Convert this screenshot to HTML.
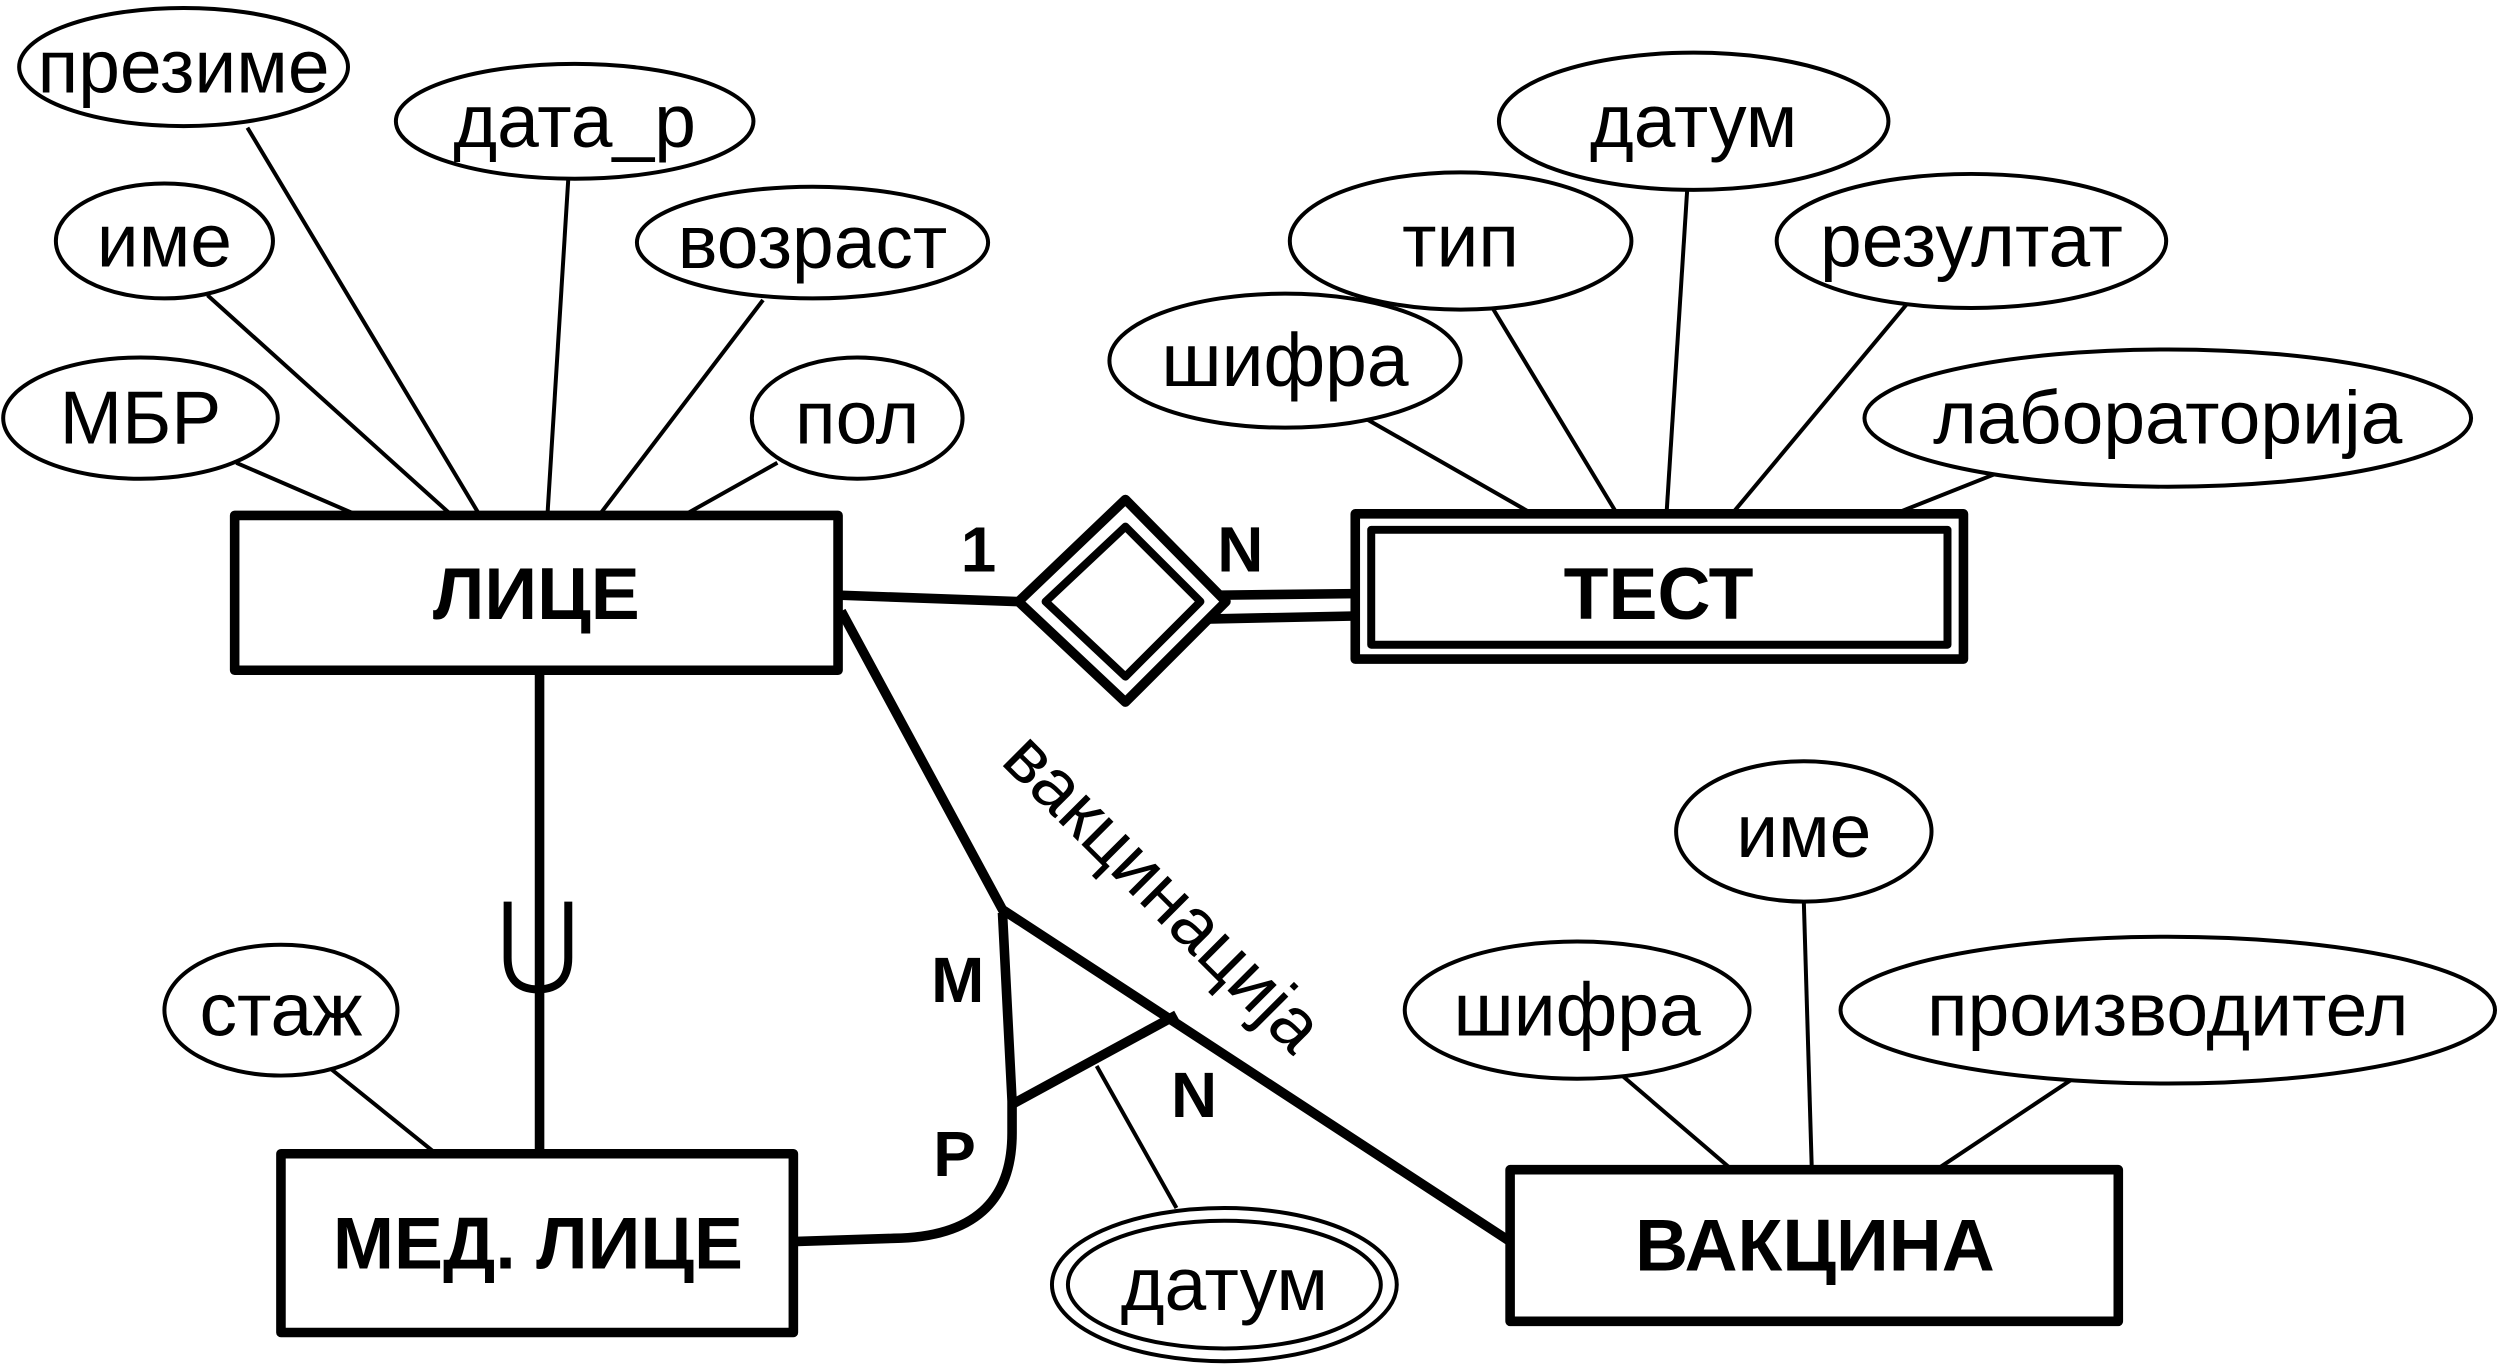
<!DOCTYPE html>
<html><head><meta charset="utf-8"><style>
html,body{margin:0;padding:0;background:#fff;}
svg{display:block;}
text{font-family:"Liberation Sans","DejaVu Sans",sans-serif;fill:#000;}
</style></head><body>
<svg width="2503" height="1366" viewBox="0 0 1568 856" preserveAspectRatio="none" xmlns="http://www.w3.org/2000/svg">
<g fill="#fff" stroke="#000" stroke-width="2.5">
<line x1="155" y1="80" x2="300" y2="322"/>
<line x1="356" y1="112" x2="343" y2="322"/>
<line x1="130" y1="185" x2="282" y2="322"/>
<line x1="478" y1="188" x2="376" y2="322"/>
<line x1="148" y1="290" x2="222" y2="322"/>
<line x1="487" y1="290" x2="430" y2="322"/>
<line x1="848" y1="258" x2="960" y2="322"/>
<line x1="935" y1="193" x2="1013" y2="322"/>
<line x1="1057" y1="118" x2="1044" y2="322"/>
<line x1="1195" y1="190" x2="1085" y2="322"/>
<line x1="1260" y1="293" x2="1187" y2="322"/>
<line x1="1130" y1="565" x2="1135" y2="733"/>
<line x1="1015" y1="673" x2="1085" y2="733"/>
<line x1="1300" y1="675" x2="1213" y2="733"/>
<line x1="205" y1="668" x2="272" y2="722"/>
<line x1="687" y1="668" x2="737" y2="757"/>
<ellipse cx="115" cy="42" rx="103" ry="37"/>
<ellipse cx="360" cy="76" rx="112" ry="36"/>
<ellipse cx="103" cy="151" rx="68" ry="36"/>
<ellipse cx="509" cy="152" rx="110" ry="35"/>
<ellipse cx="88" cy="262" rx="86" ry="38"/>
<ellipse cx="537" cy="262" rx="66" ry="38"/>
<ellipse cx="805" cy="226" rx="110" ry="42"/>
<ellipse cx="915" cy="151" rx="107" ry="43"/>
<ellipse cx="1061" cy="76" rx="122" ry="43"/>
<ellipse cx="1235" cy="151" rx="122" ry="42"/>
<ellipse cx="1358" cy="262" rx="190" ry="43"/>
<ellipse cx="1130" cy="521" rx="80" ry="44"/>
<ellipse cx="988" cy="633" rx="108" ry="43"/>
<ellipse cx="1358" cy="633" rx="205" ry="46"/>
<ellipse cx="176" cy="633" rx="73" ry="41"/>
<ellipse cx="767" cy="805" rx="108" ry="48"/>
<ellipse cx="767" cy="805" rx="98" ry="40"/>
</g>
<g fill="none" stroke="#000" stroke-width="6" stroke-linejoin="round">
<line x1="527" y1="373" x2="638" y2="377"/>
<line x1="760" y1="373" x2="849" y2="372"/>
<line x1="752" y1="388" x2="849" y2="386"/>
<line x1="338" y1="420" x2="338" y2="722"/>
<path d="M318 565 L318 600 Q318 620 337 620 Q356 620 356 600 L356 565" stroke-width="5"/>
<polyline points="527,383 628,570 946,778"/>
<path d="M628 572 L634 690 L634 710 Q634 775 560 776 L497 778"/>
<line x1="634" y1="692" x2="737" y2="636"/>
<rect x="147" y="323" width="378" height="97" fill="#fff"/>
<rect x="176" y="723" width="321" height="112" fill="#fff"/>
<rect x="946" y="733" width="381" height="95" fill="#fff"/>
<rect x="849" y="322" width="381" height="91" fill="#fff"/>
<rect x="859" y="332" width="361" height="72" stroke-width="5"/>
<polygon points="705,313 768,377 705,440 638,377" fill="#fff"/>
<polygon points="705,330 752,377 705,424 655,377" stroke-width="5"/>
</g>
<g font-size="47" text-anchor="middle">
<text x="115" y="58">презиме</text>
<text x="360" y="92">дата_р</text>
<text x="103" y="167">име</text>
<text x="509" y="168">возраст</text>
<text x="88" y="278">МБР</text>
<text x="537" y="278">пол</text>
<text x="805" y="242">шифра</text>
<text x="915" y="167">тип</text>
<text x="1061" y="92">датум</text>
<text x="1235" y="167">резултат</text>
<text x="1358" y="278">лабораторија</text>
<text x="1130" y="537">име</text>
<text x="988" y="649">шифра</text>
<text x="1358" y="649">производител</text>
<text x="176" y="649">стаж</text>
<text x="767" y="821">датум</text>
<text transform="translate(728,560) rotate(45)" y="14" font-size="46">вакцинација</text>
</g>
<g font-size="46" font-weight="bold" text-anchor="middle">
<text x="336" y="388">ЛИЦЕ</text>
<text x="1039" y="388">ТЕСТ</text>
<text x="337" y="795">МЕД. ЛИЦЕ</text>
<text x="1137" y="796">ВАКЦИНА</text>
</g>
<g font-size="40" font-weight="bold" text-anchor="middle">
<text x="613" y="358">1</text>
<text x="777" y="358">N</text>
<text x="600" y="628">M</text>
<text x="598" y="737">P</text>
<text x="748" y="700">N</text>
</g>
</svg>
</body></html>
